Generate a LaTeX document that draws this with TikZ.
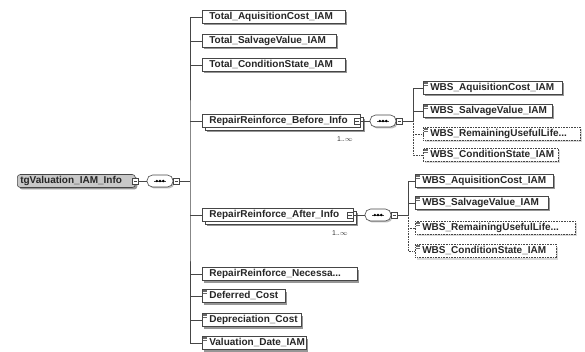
\documentclass[tikz,border=0pt]{standalone}
\usepackage{fontspec}
\setmainfont{Liberation Sans}
\usetikzlibrary{shadows}
\definecolor{ln}{RGB}{70,70,70}
\definecolor{rootfill}{RGB}{200,200,200}
\definecolor{shd}{RGB}{150,150,150}
\newcommand\xel[6]{\pgfmathsetmacro\xtw{#4-14}\node[elem,#5,text width=\xtw pt] (#1) at (#2,#3) {#6};}
\newcommand\xico[1]{\draw[shd!70!black,line width=0.5pt] ([xshift=1pt,yshift=-1pt]#1.north west) -- ++(3.5,0) ([xshift=1pt,yshift=-2.5pt]#1.north west) -- ++(3.5,0) ([xshift=1pt,yshift=-4pt]#1.north west) -- ++(3.5,0);}
\begin{document}
\begin{tikzpicture}[x=1pt,y=-1pt,
  elem/.style={draw=ln, fill=white, line width=0.6pt, rectangle, inner xsep=7pt, inner ysep=0pt,
    minimum height=13pt, text height=7.3pt, text depth=1.8pt, align=left,
    font=\bfseries\fontsize{10}{11}\selectfont, text=black!85, anchor=west},
  shd/.style={general shadow={fill=shd, shadow xshift=2pt, shadow yshift=-2pt}},
  multi/.style={general shadow={fill=shd, shadow xshift=5pt, shadow yshift=-5pt},
    copy shadow={shadow xshift=3pt, shadow yshift=-3pt}},
  opt/.style={densely dotted, general shadow={fill=shd!35, shadow xshift=2pt, shadow yshift=-2pt}},
  conn/.style={draw=ln, line width=0.6pt},
  optconn/.style={conn, densely dotted},
  sq/.style={draw=ln, fill=white, line width=0.5pt, minimum size=6pt, inner sep=0pt,
    path picture={\draw[ln, line width=0.5pt] ([xshift=1.3pt]path picture bounding box.west) -- ([xshift=-1.3pt]path picture bounding box.east);}},
  seq/.style={draw=ln, fill=white, line width=0.6pt, rounded corners=5.5pt, minimum width=26pt,
    minimum height=12pt, inner sep=0pt,
    general shadow={fill=shd!60, shadow xshift=1.5pt, shadow yshift=-1.5pt},
    path picture={
      \draw[ln, line width=0.6pt] ([xshift=7pt]path picture bounding box.west) -- ([xshift=-7pt]path picture bounding box.east);
      \fill[black] ([xshift=-3.2pt]path picture bounding box.center) circle (1.3pt)
                   (path picture bounding box.center) circle (1.3pt)
                   ([xshift=3.2pt]path picture bounding box.center) circle (1.3pt);}},
  mult/.style={inner sep=0pt, font=\fontsize{7}{8}\selectfont, text=black!80}
]
\useasboundingbox (0,0) rectangle (585,352);

% root
\node[elem, shd, fill=rootfill, rounded corners=3pt, inner xsep=3pt, text width=112pt] (root) at (17,181) {tgValuation\_IAM\_Info};
\node[sq] (rootsq) at (root.east) {};
\node[seq] (rootseq) at (160,181) {};
\node[sq] (rootseqsq) at ([xshift=3pt]rootseq.east) {};
\coordinate (tr) at (190,181);

% top-level children
\xel{ta}{202}{17}{143}{shd}{Total\_AquisitionCost\_IAM}
\xel{ts}{202}{41}{134}{shd}{Total\_SalvageValue\_IAM}
\xel{tc}{202}{65}{143}{shd}{Total\_ConditionState\_IAM}
\xel{rb}{202}{121}{158}{multi}{RepairReinforce\_Before\_Info}
\xel{ra}{202}{215}{151}{multi}{RepairReinforce\_After\_Info}
\xel{rn}{202}{274}{155}{shd}{RepairReinforce\_Necessa...}
\xel{dc}{202}{296}{83}{shd}{Deferred\_Cost}
\xel{dp}{202}{320}{99}{shd}{Depreciation\_Cost}
\xel{vd}{202}{343}{104}{shd}{Valuation\_Date\_IAM}
\xico{dc}\xico{dp}\xico{vd}

\node[mult] (rbm) at (345,139) {1..$\infty$};
\node[mult] (ram) at (340,233) {1..$\infty$};

\draw[conn] (rootsq.east) -- (rootseq.west);
\draw[conn] (rootseqsq.east) -- (tr);
\draw[conn] (ta.west) -| (tr) |- (vd.west);
\foreach \n in {ts,tc,rb,ra,rn,dc,dp} \draw[conn] (tr |- \n.west) -- (\n.west);

% before group
\node[sq] (rbsq) at ([xshift=-3.5pt]rb.east) {};
\node[seq] (rbseq) at (383,121) {};
\node[sq] (rbseqsq) at ([xshift=3pt]rbseq.east) {};
\coordinate (rbt) at (413,121);
\xel{b1}{423}{88}{139}{shd}{WBS\_AquisitionCost\_IAM}
\xel{b2}{423}{111}{129}{shd}{WBS\_SalvageValue\_IAM}
\xel{b3}{423}{134}{157}{opt}{WBS\_RemainingUsefulLife...}
\xel{b4}{423}{155}{135}{opt}{WBS\_ConditionState\_IAM}
\xico{b1}\xico{b2}\xico{b3}\xico{b4}
\draw[conn] (rbsq.east) -- (rbseq.west);
\draw[conn] (rbseqsq.east) -- (rbt);
\draw[conn] (b1.west) -| (rbt);
\draw[conn] (rbt |- b2.west) -- (b2.west);
\draw[optconn] (rbt) |- (b4.west);
\draw[optconn] (rbt |- b3.west) -- (b3.west);

% after group
\node[sq] (rasq) at ([xshift=-3.5pt]ra.east) {};
\node[seq] (raseq) at (378,215) {};
\node[sq] (raseqsq) at ([xshift=3pt]raseq.east) {};
\coordinate (rat) at (408,215);
\xel{a1}{415}{181}{138}{shd}{WBS\_AquisitionCost\_IAM}
\xel{a2}{415}{203}{133}{shd}{WBS\_SalvageValue\_IAM}
\xel{a3}{415}{228}{160}{opt}{WBS\_RemainingUsefulLife...}
\xel{a4}{415}{251}{141}{opt}{WBS\_ConditionState\_IAM}
\xico{a1}\xico{a2}\xico{a3}\xico{a4}
\draw[conn] (rasq.east) -- (raseq.west);
\draw[conn] (raseqsq.east) -- (rat);
\draw[conn] (a1.west) -| (rat);
\draw[conn] (rat |- a2.west) -- (a2.west);
\draw[optconn] (rat) |- (a4.west);
\draw[optconn] (rat |- a3.west) -- (a3.west);
\end{tikzpicture}
\end{document}
